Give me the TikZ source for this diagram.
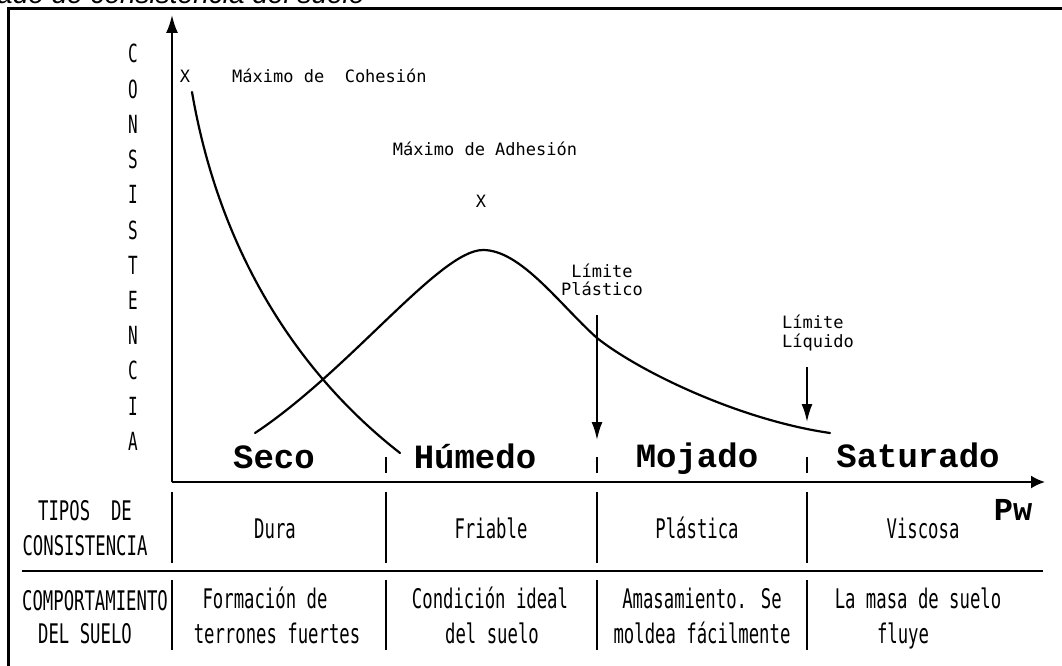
\documentclass[tikz,border=0pt]{standalone}
\usepackage{fontspec}
\usetikzlibrary{arrows.meta}
\newfontfamily\plotfont[FakeStretch=0.64]{DejaVu Sans Mono}
\newfontfamily\smallfont{DejaVu Sans Mono}
\newfontfamily\zonefont{Liberation Mono}
\newfontfamily\titlefont{Liberation Sans}
\begin{document}
\begin{tikzpicture}[x=1pt,y=-1pt,
  tabtext/.style={anchor=base,inner sep=0pt,font=\plotfont\fontsize{27}{30}\selectfont},
  vletter/.style={anchor=base,inner sep=0pt,font=\plotfont\fontsize{25}{28}\selectfont},
  smalltext/.style={inner sep=0pt,font=\smallfont\fontsize{17}{18}\selectfont},
  zonetext/.style={anchor=base,inner sep=0pt,font=\zonefont\bfseries\fontsize{34}{36}\selectfont},
  curve/.style={line width=2.2pt,line cap=round},
  axis/.style={line width=2pt},
  tabline/.style={line width=2pt},
  limarrow/.style={line width=2pt,-{Latex[length=18pt,width=11pt]}}]
\useasboundingbox (0,0) rectangle (1062,666);
% title (cut off at top, as in the reference)
\node[anchor=base west,inner sep=0pt,font=\titlefont\itshape\fontsize{28}{30}\selectfont] (title) at (-3,4) {ado de consistencia del suelo};
% frame
\draw[line width=3pt] (8,672) -- (8,9) -- (1070,9);
% axes
\coordinate (origin) at (172,482);
\coordinate (ytip) at (172,15);
\coordinate (xtip) at (1045,482);
\draw[axis,-{Latex[length=18pt,width=12pt]}] (origin) -- (ytip);
\draw[axis,-{Latex[length=14pt,width=13pt]}] (origin) -- (xtip);
% vertical axis label
\foreach \ch [count=\i from 0] in {C,O,N,S,I,S,T,E,N,C,I,A}
  \node[vletter] (v\i) at (133,63+35.2*\i) {\ch};
% curves
\coordinate (cohA) at (192,92);
\coordinate (cohB) at (400,453);
\draw[curve] (cohA) .. controls (220,255) and (300,375) .. (cohB);
\coordinate (adhA) at (255,433);
\coordinate (adhPeak) at (483,250);
\coordinate (adhM) at (597,338);
\coordinate (adhB) at (830,433);
\draw[curve] (adhA) .. controls (350,370) and (440,250) .. (adhPeak)
  .. controls (521,250) and (560,305) .. (adhM)
  .. controls (640,372) and (740,420) .. (adhB);
% markers and labels
\node[smalltext,anchor=base] (xc) at (185,83) {X};
\node[smalltext,anchor=base west] (cohesion) at (232,83) {Máximo de~~Cohesión};
\node[smalltext,anchor=base] (adhesion) at (485,155) {Máximo de Adhesión};
\node[smalltext,anchor=base] (xa) at (481,207) {X};
\node[smalltext,anchor=base] (lp1) at (602,277) {Límite};
\node[smalltext,anchor=base] (lp2) at (602,295) {Plástico};
\node[smalltext,anchor=base west] (ll1) at (782,328) {Límite};
\node[smalltext,anchor=base west] (ll2) at (782,347) {Líquido};
\coordinate (lpTop) at (597,315);
\coordinate (lpTip) at (597,440);
\coordinate (llTop) at (807,367);
\coordinate (llTip) at (807,422);
\draw[limarrow] (lpTop) -- (lpTip);
\draw[limarrow] (llTop) -- (llTip);
% zone separators
\foreach \x in {386,597,807}
  \draw[tabline] (\x,457) -- (\x,473);
% zone names
\node[zonetext] (seco) at (274,468) {Seco};
\node[zonetext] (humedo) at (475,468) {Húmedo};
\node[zonetext] (mojado) at (697,467) {Mojado};
\node[zonetext] (saturado) at (918,467) {Saturado};
\node[anchor=base,inner sep=0pt,font=\zonefont\bfseries\fontsize{32}{34}\selectfont] (pw) at (1013,520) {Pw};
% table lines
\foreach \x in {172,386,597,807}{
  \draw[tabline] (\x,492) -- (\x,563);
  \draw[tabline] (\x,580) -- (\x,650);
}
\draw[tabline] (22,571) -- (1043,571);
% row labels
\node[tabtext] (tipos) at (85,520) {TIPOS~ DE};
\node[tabtext] (consist) at (85,555) {CONSISTENCIA};
\node[tabtext] (comport) at (95,610) {COMPORTAMIENTO};
\node[tabtext] (delsuelo) at (85,643) {DEL SUELO};
% row 1
\node[tabtext] (dura) at (275,538) {Dura};
\node[tabtext] (friable) at (491,538) {Friable};
\node[tabtext] (plastica) at (697,538) {Plástica};
\node[tabtext] (viscosa) at (923,538) {Viscosa};
% row 2
\node[tabtext] (c1a) at (265,608) {Formación de};
\node[tabtext] (c1b) at (277,643) {terrones fuertes};
\node[tabtext] (c2a) at (490,608) {Condición ideal};
\node[tabtext] (c2b) at (492,643) {del suelo};
\node[tabtext] (c3a) at (702,608) {Amasamiento. Se};
\node[tabtext] (c3b) at (702,643) {moldea fácilmente};
\node[tabtext] (c4a) at (918,608) {La masa de suelo};
\node[tabtext] (c4b) at (903,643) {fluye};
\end{tikzpicture}
\end{document}
